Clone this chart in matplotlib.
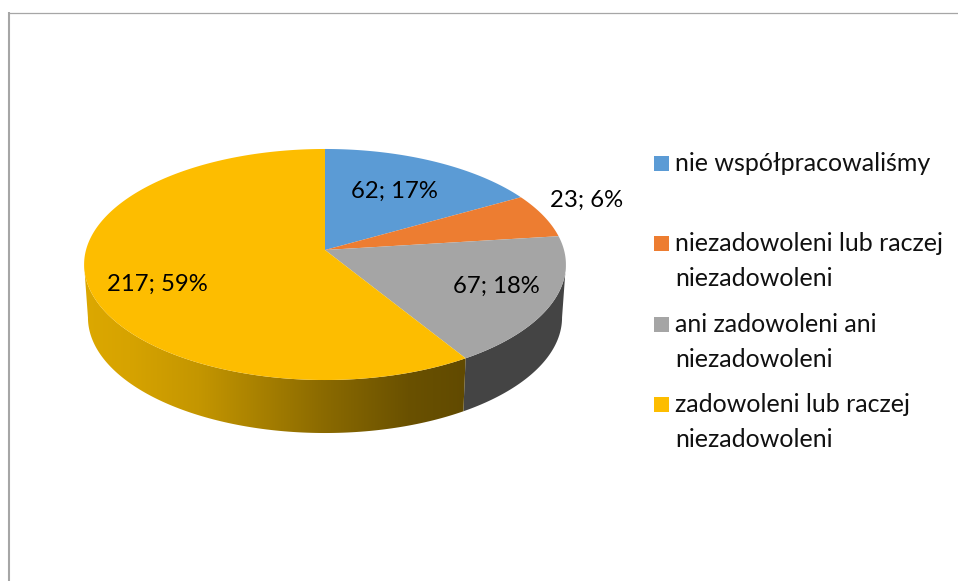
import numpy as np
import matplotlib
matplotlib.use("Agg")
from matplotlib import pyplot as plt
from matplotlib.colors import LinearSegmentedColormap
from matplotlib.patches import Polygon, Rectangle

plt.rcParams["font.family"] = ["Lato", "DejaVu Sans"]

categories = [
    "nie współpracowaliśmy",
    "niezadowoleni lub raczej\nniezadowoleni",
    "ani zadowoleni ani\nniezadowoleni",
    "zadowoleni lub raczej\nniezadowoleni",
]
values = [62, 23, 67, 217]
colors = ["#5B9BD5", "#ED7D31", "#A5A5A5", "#FDBD00"]

label_pos = [(394, 191), (587, 200), (496, 286), (157, 284)]
legend_y = [156, 236, 317, 397]

# the pie as a tilted disc: apex, half sizes and perspective in pixels
APEX_X, APEX_Y = 325, 250
SCALE_X, SCALE_Y, PERSP = 239.0, 113.7, 0.1255
DEPTH, BOTTOM_SHRINK = 53, 0.984


def rim(theta):
    # theta is clockwise from the top, in radians
    den = 1 + PERSP * np.cos(theta)
    return (APEX_X + SCALE_X * np.sin(theta) / den,
            APEX_Y - SCALE_Y * np.cos(theta) / den)


def side_polygon(t0, t1):
    theta = np.linspace(t0, t1, 120)
    x, y = rim(theta)
    xb = APEX_X + (x - APEX_X) * BOTTOM_SHRINK
    yb = y + DEPTH
    return np.column_stack([np.r_[x, xb[::-1]], np.r_[y, yb[::-1]]])


figure = plt.figure(figsize=(9.58, 5.81), dpi=100)
axes = figure.add_axes([0, 0, 1, 1])
axes.axis("off")

edges = np.r_[0, np.cumsum(values)] / sum(values) * 2 * np.pi
left_most = 2 * np.pi - np.arccos(-PERSP)
right_most = np.arccos(-PERSP)

# side walls first, the top goes over them
grey_side = Polygon(side_polygon(right_most, edges[3]), closed=True, fc="#444444", ec="none")
axes.add_patch(grey_side)

yellow_side = Polygon(side_polygon(edges[3], left_most), closed=True, fc="none", ec="none")
axes.add_patch(yellow_side)
side_cmap = LinearSegmentedColormap.from_list(
    "side",
    [(0.0, "#DCA800"), (0.12, "#D6A300"), (0.30, "#C49600"), (0.62, "#8C6B00"),
     (0.85, "#6A5100"), (1.0, "#614A00")],
)
gradient = axes.imshow(
    np.linspace(0, 1, 256)[None, :], cmap=side_cmap, aspect="auto",
    extent=(84, 466, 440, 260), zorder=1,
)
gradient.set_clip_path(yellow_side)

# top of the pie
for idx, color in enumerate(colors):
    theta = np.linspace(edges[idx], edges[idx + 1], 200)
    x, y = rim(theta)
    points = np.column_stack([np.r_[APEX_X, x], np.r_[APEX_Y, y]])
    axes.add_patch(Polygon(points, closed=True, fc=color, ec="none", zorder=2))

total = sum(values)
for value, pos in zip(values, label_pos):
    axes.text(pos[0], pos[1], f"{value}; {round(100 * value / total)}%",
              fontsize=17.2, color="black", ha="center", va="center", zorder=3)

# legend
for label, color, y in zip(categories, colors, legend_y):
    axes.add_patch(Rectangle((654, y), 15, 15, fc=color, ec="none"))
    axes.text(675, y - 4, label, fontsize=18, color="#111111", ha="left", va="top",
              linespacing=1.62)

# chart frame, cut off by the picture edge
axes.plot([9, 9], [12, 581], color="#A6A6A6", lw=1.5, solid_capstyle="butt")
axes.plot([8, 958], [12.5, 12.5], color="#A6A6A6", lw=0.9, solid_capstyle="butt")

axes.set_xlim(0, 958)
axes.set_ylim(581, 0)
figure.savefig("out.png", dpi=100, facecolor="white")
